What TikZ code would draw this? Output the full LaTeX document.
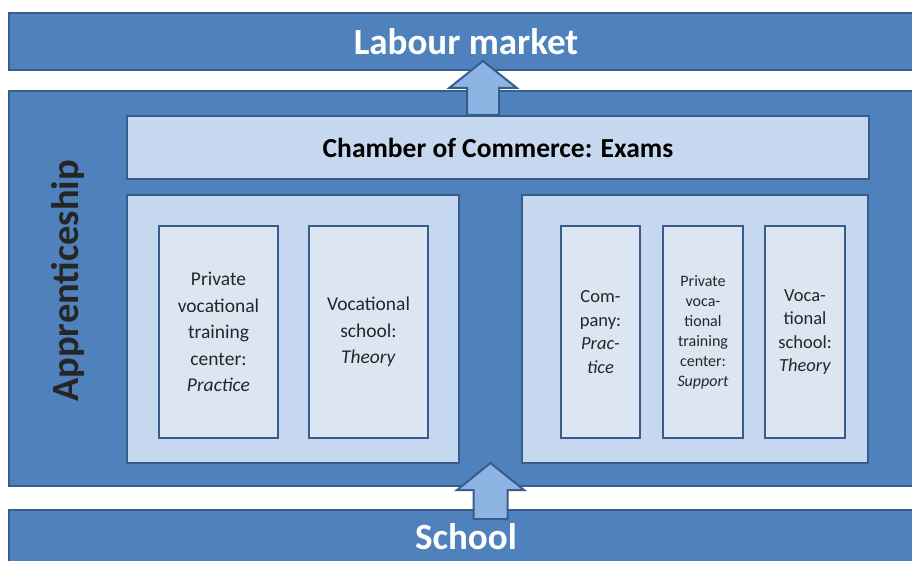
\documentclass[tikz,border=0pt]{standalone}
\usepackage{fontspec}
\setmainfont{Carlito}
\usetikzlibrary{calc}
\definecolor{barblue}{HTML}{4F81BD}
\definecolor{edgeblue}{HTML}{385D8A}
\definecolor{paleblue}{HTML}{C6D8EF}
\definecolor{lightblue}{HTML}{DCE6F2}
\definecolor{arrowblue}{HTML}{8EB4E3}
\definecolor{textgray}{HTML}{262626}
\begin{document}
\begin{tikzpicture}[x=1pt, y=-1pt,
  bar/.style={rectangle, draw=edgeblue, line width=2pt, fill=barblue, inner sep=0pt,
    text=white, font=\bfseries\fontsize{37}{40}\selectfont},
  group/.style={rectangle, draw=edgeblue, line width=2.5pt, fill=paleblue, inner sep=0pt},
  unit/.style={rectangle, draw=edgeblue, line width=2.5pt, fill=lightblue, inner sep=0pt,
    minimum height=212, align=center, text=textgray},
  blockarrow/.style={draw=edgeblue, line width=2pt, fill=arrowblue, line join=miter}]
\useasboundingbox (0,0) rectangle (912,560);
\clip (0,0) rectangle (912,560);
\fill[white] (0,0) rectangle (912,560);
% outer bars
\node[bar, minimum width=914, minimum height=57] (labour) at (466,41.5) {Labour market};
\node[bar, minimum width=914, minimum height=395] (appr) at (466,288.5) {};
\node[bar, minimum width=914, minimum height=53] (school) at (466,536.5) {School};
\node[rotate=90, text=textgray, font=\bfseries\fontsize{38.5}{42}\selectfont] (apprlabel) at (68,281) {Apprenticeship};
% chamber and the two tracks
\node[group, minimum width=742, minimum height=63, font=\bfseries\fontsize{27.5}{30}\selectfont] (chamber) at (498,147.5) {Chamber of Commerce: Exams};
\node[group, minimum width=332, minimum height=268] (left) at (293,329) {};
\node[group, minimum width=346, minimum height=268] (right) at (695,329) {};
% left track
\node[unit, minimum width=119, font=\fontsize{19.5}{26.5}\selectfont] (pvtctr) at (218.5,332) {Private\\vocational\\training\\center:\\\textit{Practice}};
\node[unit, minimum width=119, font=\fontsize{19.5}{26.5}\selectfont] (vocsch) at (368.5,332) {Vocational\\school:\\\textit{Theory}};
% right track
\node[unit, minimum width=79, font=\fontsize{18.5}{23.5}\selectfont] (company) at (600.5,332) {Com-\\pany:\\\textit{Prac-}\\\textit{tice}};
\node[unit, minimum width=80, font=\fontsize{16}{20}\selectfont] (pvtsup) at (703,332) {Private\\voca-\\tional\\training\\center:\\\textit{Support}};
\node[unit, minimum width=80, font=\fontsize{18.5}{23.5}\selectfont] (vocsch2) at (805,332) {Voca-\\tional\\school:\\\textit{Theory}};
% arrows
\coordinate (uptip) at (483,61);
\coordinate (upfoot) at (uptip |- chamber.north);
\draw[blockarrow] ($(upfoot)+(-16,0)$) -- ($(upfoot)+(-16,-27)$) -- ($(upfoot)+(-33.5,-27)$) -- (uptip)
  -- ($(upfoot)+(33.5,-27)$) -- ($(upfoot)+(16,-27)$) -- ($(upfoot)+(16,0)$) -- cycle;
\coordinate (intip) at (490.5,463);
\coordinate (infoot) at (490.5,519);
\draw[blockarrow] ($(infoot)+(-17,0)$) -- ($(infoot)+(-17,-29)$) -- ($(infoot)+(-33.5,-29)$) -- (intip)
  -- ($(infoot)+(33.5,-29)$) -- ($(infoot)+(17,-29)$) -- ($(infoot)+(17,0)$) -- cycle;
\end{tikzpicture}
\end{document}
